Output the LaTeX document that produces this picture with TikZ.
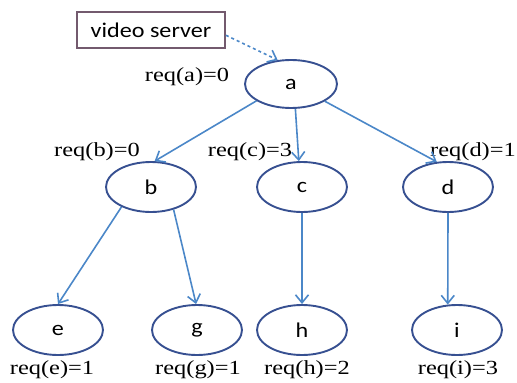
\documentclass[tikz,border=0pt]{standalone}
\usepackage{fontspec}
\setmainfont{Liberation Serif}
\newfontfamily\lblserif[FakeStretch=1.22]{Liberation Serif}
\newfontfamily\lblsans[FakeStretch=1.15]{Carlito}
\usetikzlibrary{arrows.meta,shapes.geometric}
\definecolor{edgecol}{RGB}{75,135,200}
\definecolor{ringcol}{RGB}{55,80,145}
\definecolor{boxcol}{RGB}{115,90,110}
\tikzset{
  vert/.style={draw=ringcol, line width=1.9pt, ellipse, minimum width=90pt,
    minimum height=50pt, inner sep=0pt, font=\lblsans\fontsize{21}{21}\selectfont},
  reqlabel/.style={inner sep=0pt, font=\lblserif\fontsize{20}{20}\selectfont},
  edge/.style={draw=edgecol, line width=1.6pt, -{Straight Barb[length=8pt,width=13pt]}},
  srvbox/.style={draw=boxcol, line width=1.8pt, rectangle, minimum width=148pt,
    minimum height=36pt, inner sep=0pt, font=\lblsans\fontsize{21}{21}\selectfont},
}
\begin{document}
\begin{tikzpicture}[x=1pt,y=-1pt]
\useasboundingbox (0,0) rectangle (517,383);
\node[srvbox] (srv) at (151,30) {video server};
\node[vert, minimum width=92pt, minimum height=48pt] (a) at (291,84) {a};
\node[vert] (b) at (151,187) {b};
\node[vert] (c) at (302,187) {c};
\node[vert] (d) at (448,187) {d};
\node[vert] (e) at (58,330) {e};
\node[vert] (g) at (197,330) {g};
\node[vert] (h) at (302,330) {h};
\node[vert] (i) at (457,330) {i};
\node[reqlabel] (la) at (187,77) {req(a)=0};
\node[reqlabel] (lb) at (97,152) {req(b)=0};
\node[reqlabel] (lc) at (250,152) {req(c)=3};
\node[reqlabel] (ld) at (473,152) {req(d)=1};
\node[reqlabel] (le) at (52,370) {req(e)=1};
\node[reqlabel] (lg) at (198,370) {req(g)=1};
\node[reqlabel] (lh) at (307,370) {req(h)=2};
\node[reqlabel] (li) at (458,370) {req(i)=3};
\draw[edge, dashed] (srv.-4) -- (a.119);
\draw[edge] (a.206) -- (b.82);
\draw[edge] (a.280) -- (c.97);
\draw[edge] (a.333) -- (d.114);
\draw[edge] (b.214) -- (e.north);
\draw[edge] (b.315) -- (g.92);
\draw[edge] (c.south) -- (h.north);
\draw[edge] (d.south) -- (i.110);
\end{tikzpicture}
\end{document}
